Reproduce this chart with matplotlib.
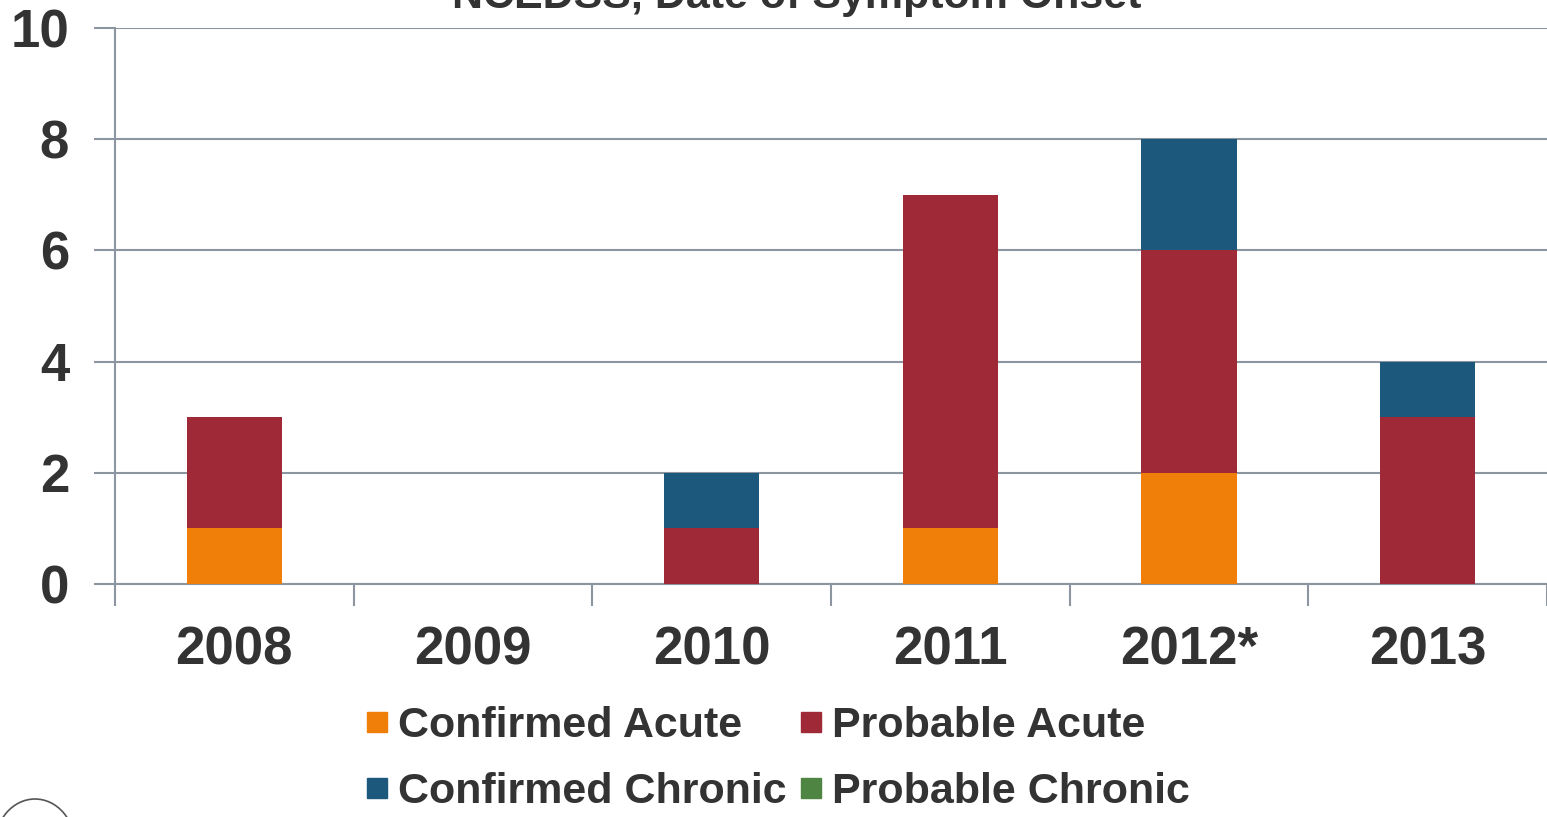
import numpy as np
import matplotlib
matplotlib.use("Agg")
import matplotlib.pyplot as plt
from matplotlib.patches import Ellipse
from matplotlib.lines import Line2D

plt.rcParams["font.family"] = ["Liberation Sans", "DejaVu Sans"]
plt.rcParams["font.weight"] = "bold"

years = ["2008", "2009", "2010", "2011", "2012*", "2013"]
confirmed_acute = [1, 0, 0, 1, 2, 0]
probable_acute = [2, 0, 1, 6, 4, 3]
confirmed_chronic = [0, 0, 1, 0, 2, 1]
probable_chronic = [0, 0, 0, 0, 0, 0]

C_CA = "#F07F09"
C_PA = "#9F2936"
C_CC = "#1B587C"
C_PC = "#4E8542"
GRID = "#8C96A0"
TXT = "#333333"

fig = plt.figure(figsize=(15.47, 8.17), dpi=100)
ax = fig.add_axes([115 / 1547, 1 - 584 / 817, 1 - 115 / 1547, (584 - 28) / 817])

x = np.arange(len(years))
w = 0.4
ca = np.array(confirmed_acute)
pa = np.array(probable_acute)
cc = np.array(confirmed_chronic)
pc = np.array(probable_chronic)
ax.bar(x, ca, w, color=C_CA, zorder=3)
ax.bar(x, pa, w, bottom=ca, color=C_PA, zorder=3)
ax.bar(x, cc, w, bottom=ca + pa, color=C_CC, zorder=3)
ax.bar(x, pc, w, bottom=ca + pa + cc, color=C_PC, zorder=3)

ax.set_xlim(-0.5, len(years) - 0.5)
ax.set_ylim(0, 10)
ax.set_yticks(range(0, 11, 2))
ax.yaxis.grid(True, color=GRID, linewidth=1.5, zorder=0)
ax.set_axisbelow(True)
ax.tick_params(axis="y", length=15, width=1.5, color=GRID, pad=18,
               labelsize=38, labelcolor=TXT)
# boundary ticks between categories, labels centred on the bars
ax.set_xticks(np.arange(-0.5, len(years)))
ax.set_xticklabels([])
ax.tick_params(axis="x", which="major", length=16, width=1.5, color=GRID)
ax.set_xticks(x, minor=True)
ax.set_xticklabels(years, minor=True)
ax.tick_params(axis="x", which="minor", length=0, pad=30, labelsize=38,
               labelcolor=TXT)
for lab in ax.get_yticklabels() + ax.get_xticklabels(minor=True):
    lab.set_fontweight("bold")

for s in ["top", "right"]:
    ax.spines[s].set_visible(False)
ax.spines["left"].set_color(GRID)
ax.spines["left"].set_linewidth(1.5)
ax.spines["bottom"].set_color(GRID)
ax.spines["bottom"].set_linewidth(1.5)

handles = [Line2D([], [], marker="s", linestyle="", markersize=15, color=c)
           for c in [C_CA, C_CC, C_PA, C_PC]]
labels = ["Confirmed Acute", "Confirmed Chronic", "Probable Acute", "Probable Chronic"]
fig.legend(handles, labels, ncol=2, loc="center", bbox_to_anchor=(0.503, 1 - 759 / 817),
           frameon=False, handlelength=0.5, handletextpad=0.25,
           columnspacing=0.3, labelspacing=0.6, labelcolor=TXT,
           prop={"weight": "bold", "size": 31})

fig.text(0.515, 1 - 8 / 817, "NCEDSS, Date of Symptom Onset", ha="center",
         va="baseline", fontsize=31, fontweight="bold", color=TXT)

fig.patches.append(Ellipse((35 / 1547, 1 - 845 / 817), 80 / 1547, 92 / 817,
                           transform=fig.transFigure, fill=False,
                           edgecolor="#555555", linewidth=1.2))

fig.savefig("out.png", dpi=100)
